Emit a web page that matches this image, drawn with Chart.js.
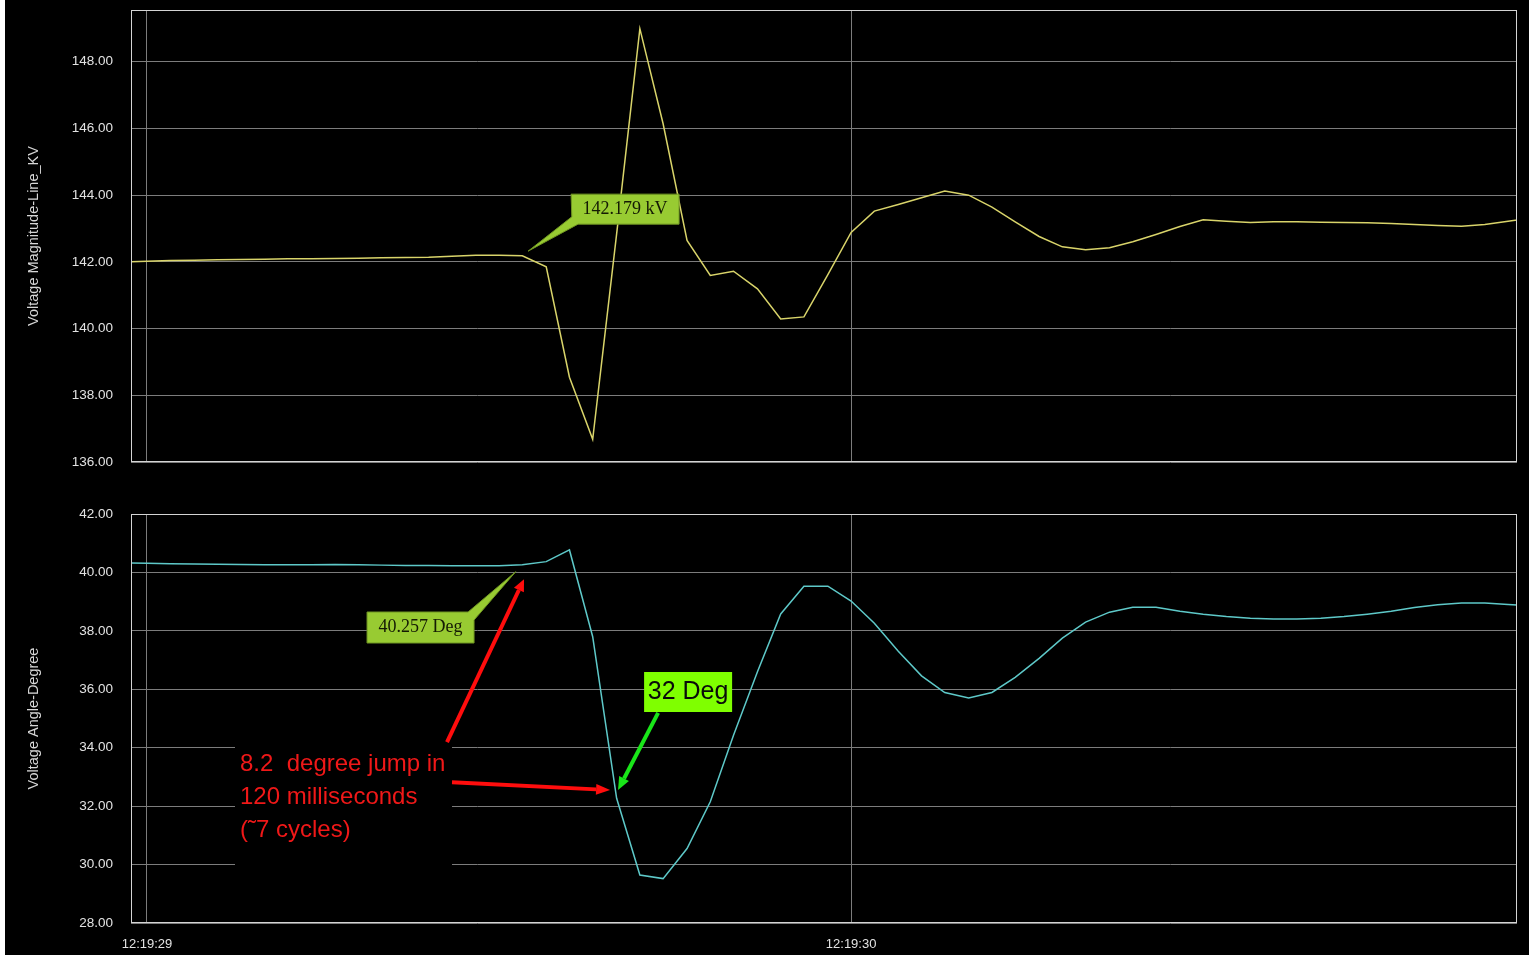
<!DOCTYPE html>
<html><head><meta charset="utf-8">
<script src="https://cdn.jsdelivr.net/npm/chart.js@4.4.1/dist/chart.umd.min.js"></script>
<style>
html,body{margin:0;padding:0;background:#fff;width:1529px;height:960px;overflow:hidden}
#bg{position:absolute;left:5px;top:0;width:1524px;height:955px;background:#000}
canvas{position:absolute;left:0}
#c1{top:0}
#c2{top:480px}
</style></head><body>
<div id="bg"></div>
<canvas id="c1" width="1529" height="480"></canvas>
<canvas id="c2" width="1529" height="480"></canvas>
<script>
// ---- data (30 samples per second, time in ms after 12:19:29) ----
const timeMs = [-33,0,33,67,100,133,167,200,233,267,300,333,367,400,433,467,500,533,567,600,633,667,700,733,767,800,833,867,900,933,967,
  1000,1033,1067,1100,1133,1167,1200,1233,1267,1300,1333,1367,1400,1433,1467,1500,1533,1567,1600,1633,1667,1700,1733,1767,1800,1833,1867,1900,1933,1967];
const magKV = [141.99,142.02,142.04,142.05,142.06,142.07,142.08,142.09,142.09,142.10,142.11,142.12,142.13,142.14,142.17,142.20,142.20,142.18,141.85,138.54,136.68,142.84,
  148.99,146.14,142.64,141.59,141.72,141.19,140.29,140.35,141.62,142.88,143.52,143.72,143.92,144.12,144.00,143.64,143.20,142.76,142.45,142.36,142.42,142.60,142.82,
  143.06,143.26,143.22,143.18,143.20,143.20,143.19,143.18,143.17,143.15,143.12,143.09,143.07,143.12,143.22,143.32];
const angleDeg = [40.33,40.31,40.30,40.29,40.28,40.27,40.26,40.26,40.26,40.27,40.26,40.25,40.24,40.24,40.23,40.23,40.23,40.26,40.37,40.77,37.80,32.27,
  29.64,29.52,30.55,32.15,34.43,36.60,38.58,39.53,39.53,39.02,38.26,37.30,36.46,35.89,35.70,35.89,36.41,37.06,37.75,38.30,38.64,38.81,38.81,
  38.67,38.57,38.49,38.43,38.41,38.41,38.43,38.49,38.57,38.67,38.80,38.89,38.95,38.95,38.90,38.86];
const xTicks = [0, 1000];
const xTickLabels = ['12:19:29', '12:19:30'];
const magTicks = [136,138,140,142,144,146,148];
const angleTicks = [28,30,32,34,36,38,40,42];

// ---- styles ----
const GRID = '#7c7c7c';
const FRAME = '#d4d4d4';
const TXT = '#e2e2e2';
const SANS = "'Liberation Sans',Arial,sans-serif";
const SERIF = "'Liberation Serif','Times New Roman',serif";

function P(chart, x, y){ return [chart.scales.x.getPixelForValue(x), chart.scales.y.getPixelForValue(y)]; }

function drawArrow(ctx, a, b, color, w, headLen, headW){
  const dx=b[0]-a[0], dy=b[1]-a[1], L=Math.hypot(dx,dy), ux=dx/L, uy=dy/L;
  const bx=b[0]-ux*headLen, by=b[1]-uy*headLen;
  ctx.strokeStyle=color; ctx.fillStyle=color; ctx.lineWidth=w; ctx.lineCap='butt';
  ctx.beginPath(); ctx.moveTo(a[0],a[1]); ctx.lineTo(bx,by); ctx.stroke();
  ctx.beginPath(); ctx.moveTo(b[0],b[1]);
  ctx.lineTo(bx-uy*headW/2, by+ux*headW/2);
  ctx.lineTo(bx+uy*headW/2, by-ux*headW/2);
  ctx.closePath(); ctx.fill();
}

const notesPlugin = {
  id:'notes',
  afterDraw(chart, args, opts){
    const ctx=chart.ctx, a=chart.chartArea;
    ctx.save();
    ctx.strokeStyle=FRAME; ctx.lineWidth=1;
    ctx.strokeRect(Math.round(a.left)+0.5, Math.round(a.top)+0.5, Math.round(a.right-a.left)-1, Math.round(a.bottom-a.top)-1);
    (opts.items||[]).forEach(it=>{
      if(it.type==='textbox'){
        const p1=P(chart,it.rect[0],it.rect[1]), p2=P(chart,it.rect[2],it.rect[3]);
        ctx.fillStyle=it.fill; ctx.fillRect(p1[0],p1[1],p2[0]-p1[0],p2[1]-p1[1]);
        ctx.fillStyle=it.color; ctx.font=it.font; ctx.textAlign='left'; ctx.textBaseline='middle';
        it.lines.forEach((t,i)=>{ const q=P(chart,it.at[0],it.lineY[i]); ctx.fillText(t,q[0],q[1]); });
      } else if(it.type==='arrow'){
        drawArrow(ctx, P(chart,it.from[0],it.from[1]), P(chart,it.to[0],it.to[1]), it.color, it.width, it.head[0], it.head[1]);
      } else if(it.type==='callout'){
        ctx.beginPath();
        it.poly.forEach((v,i)=>{ const q=P(chart,v[0],v[1]); if(i===0) ctx.moveTo(q[0],q[1]); else ctx.lineTo(q[0],q[1]); });
        ctx.closePath();
        ctx.fillStyle=it.fill; ctx.fill();
        if(it.stroke){ ctx.strokeStyle=it.stroke; ctx.lineWidth=1; ctx.stroke(); }
        const q=P(chart,it.textAt[0],it.textAt[1]);
        ctx.fillStyle=it.color; ctx.font=it.font; ctx.textAlign='center'; ctx.textBaseline='middle';
        ctx.fillText(it.text,q[0],q[1]);
      }
    });
    ctx.restore();
  }
};

function makeChart(id, values, color, yMin, yMax, yTicks, yTitle, showX, pad, xH, items){
  return new Chart(document.getElementById(id), {
    type:'line',
    data:{ datasets:[{ data: timeMs.map((t,i)=>({x:t, y:values[i]})), borderColor:color, borderWidth:1.5, pointRadius:0, tension:0, fill:false }] },
    options:{
      responsive:false, animation:false, events:[],
      layout:{ padding:{ left:0, right:12, top:pad, bottom:0 } },
      plugins:{ legend:{display:false}, tooltip:{enabled:false}, notes:{ items } },
      scales:{
        x:{ type:'linear', min:-22.7, max:1945.7,
            afterBuildTicks:s=>{ s.ticks = xTicks.map(v=>({value:v})); },
            ticks:{ display:showX, color:TXT, font:{family:SANS,size:13}, padding:14, maxRotation:0, autoSkip:false,
                    callback:(v)=>xTickLabels[xTicks.indexOf(v)] },
            grid:{ color:GRID, lineWidth:1, drawTicks:false }, border:{display:false},
            afterFit:s=>{ s.height = xH; s.paddingLeft = 0; s.paddingRight = 0; } },
        y:{ min:yMin, max:yMax,
            afterBuildTicks:s=>{ s.ticks = yTicks.map(v=>({value:v})); },
            ticks:{ color:TXT, font:{family:SANS,size:13.5}, padding:18, autoSkip:false, callback:v=>Number(v).toFixed(2) },
            grid:{ color:GRID, lineWidth:1, drawTicks:false }, border:{display:false},
            title:{ display:true, text:yTitle, color:'#d6d6d6', font:{family:SANS,size:14.5}, padding:{top:25,bottom:0} },
            afterFit:s=>{ s.width = 131; s.paddingTop = 0; s.paddingBottom = 0; } }
      }
    },
    plugins:[notesPlugin]
  });
}

makeChart('c1', magKV, '#d9d46a', 136, 149.55, magTicks, 'Voltage Magnitude-Line_KV', false, 10, 18, [
  { type:'callout', fill:'#98cb32', stroke:'#6f9422',
    poly:[[602.3,144.03],[755.7,144.03],[755.7,143.13],[612.2,143.13],[541.2,142.32],[603.3,143.35]],
    text:'142.179 kV', textAt:[679,143.58], font:'18px '+SERIF, color:'#141a04' }
]);

makeChart('c2', angleDeg, '#5ec9c9', 28, 42, angleTicks, 'Voltage Angle-Degree', true, 34, 37, [
  { type:'textbox', rect:[125,34.26,433.2,29.81], fill:'#000', color:'#f01818', font:'24px '+SANS,
    lines:['8.2  degree jump in','120 milliseconds','(\u02DC7 cycles)'], at:[132.1,0], lineY:[33.44,32.31,31.18] },
  { type:'arrow', from:[426.1,34.19], to:[535.5,39.77], color:'#ff0d0d', width:4, head:[12,11] },
  { type:'arrow', from:[433.2,32.82], to:[657.7,32.55], color:'#ff0d0d', width:4, head:[14,11] },
  { type:'callout', fill:'#98cb32', stroke:'#6f9422',
    poly:[[312.5,38.645],[456,38.645],[523.7,40.025],[464.5,38.37],[464.5,37.584],[312.5,37.584]],
    text:'40.257 Deg', textAt:[388.5,38.11], font:'18px '+SERIF, color:'#141a04' },
  { type:'callout', fill:'#7fff00', stroke:null,
    poly:[[706,36.59],[831,36.59],[831,35.22],[706,35.22]],
    text:'32 Deg', textAt:[768.5,35.9], font:'25px '+SANS, color:'#0a0a0a' },
  { type:'arrow', from:[725.9,35.19], to:[669,32.55], color:'#19e619', width:4, head:[13,11] }
]);
</script>
</body></html>
